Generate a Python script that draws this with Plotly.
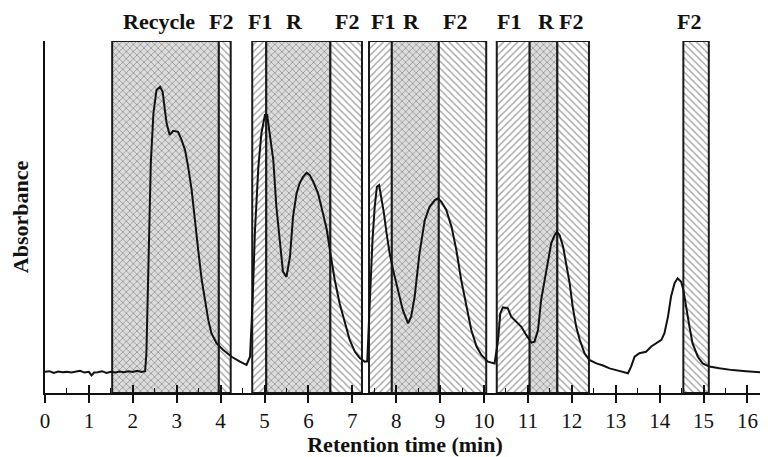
import plotly.graph_objects as go

# ---- chromatogram (retention time in min, absorbance in arbitrary units) ----
time = [0.00, 0.10, 0.20, 0.30, 0.40, 0.50, 0.60, 0.70, 0.80, 0.90, 1.00, 1.06, 1.12, 1.20,
        1.30, 1.40, 1.50, 1.60, 1.70, 1.80, 1.90, 2.00, 2.10, 2.20, 2.28,
        2.31, 2.35, 2.41, 2.47, 2.54, 2.62, 2.68, 2.73, 2.77, 2.84, 2.92, 3.03, 3.11, 3.19,
        3.26, 3.34, 3.41, 3.49, 3.57, 3.64, 3.72, 3.79, 3.91, 4.06, 4.25, 4.44, 4.59, 4.67,
        4.73, 4.78, 4.86, 4.93, 5.01, 5.06, 5.12, 5.20, 5.27, 5.35, 5.42, 5.50, 5.58, 5.65,
        5.73, 5.80, 5.88, 5.96, 6.03, 6.11, 6.22, 6.33, 6.42, 6.50, 6.60, 6.71, 6.83, 6.94,
        7.06, 7.17, 7.28, 7.34, 7.40, 7.46, 7.51, 7.56, 7.61, 7.66, 7.72, 7.78, 7.85, 7.93,
        8.04, 8.15, 8.27, 8.34, 8.42, 8.53, 8.65, 8.76, 8.88, 8.95, 9.03, 9.14, 9.26, 9.37,
        9.48, 9.60, 9.71, 9.83, 9.94, 10.09, 10.24, 10.32, 10.37, 10.43, 10.54, 10.62, 10.74,
        10.85, 10.96, 11.08, 11.15, 11.23, 11.30, 11.38, 11.45, 11.53, 11.61, 11.66, 11.72,
        11.80, 11.87, 11.95, 12.02, 12.10, 12.18, 12.29, 12.40, 12.56, 12.71, 12.86, 13.01,
        13.16, 13.28, 13.35, 13.43, 13.54, 13.69, 13.81, 13.92, 14.04, 14.11, 14.19, 14.26,
        14.34, 14.41, 14.49, 14.54, 14.60, 14.68, 14.75, 14.87, 14.98, 15.13, 15.36, 15.66,
        15.97, 16.31]
absorbance = [0.060, 0.062, 0.057, 0.061, 0.059, 0.060, 0.058, 0.061, 0.063, 0.058, 0.060, 0.050, 0.058, 0.059,
              0.062, 0.057, 0.060, 0.058, 0.061, 0.059, 0.062, 0.060, 0.063, 0.060, 0.062,
              0.113, 0.321, 0.653, 0.795, 0.861, 0.870, 0.856, 0.804, 0.766, 0.733, 0.745, 0.742, 0.719, 0.690,
              0.643, 0.577, 0.491, 0.406, 0.321, 0.264, 0.207, 0.170, 0.141, 0.122, 0.103, 0.089, 0.080, 0.103,
              0.264, 0.454, 0.643, 0.738, 0.790, 0.790, 0.738, 0.662, 0.529, 0.425, 0.345, 0.330, 0.387, 0.501,
              0.567, 0.596, 0.614, 0.626, 0.619, 0.600, 0.567, 0.511, 0.463, 0.397, 0.321, 0.255, 0.198, 0.151,
              0.117, 0.099, 0.089, 0.090, 0.264, 0.435, 0.529, 0.586, 0.591, 0.558, 0.511, 0.454, 0.397, 0.349,
              0.293, 0.236, 0.198, 0.217, 0.274, 0.397, 0.491, 0.529, 0.548, 0.553, 0.543, 0.520, 0.472, 0.406,
              0.321, 0.245, 0.179, 0.132, 0.108, 0.089, 0.084, 0.151, 0.226, 0.243, 0.241, 0.217, 0.203,
              0.188, 0.165, 0.143, 0.146, 0.179, 0.264, 0.321, 0.378, 0.425, 0.449, 0.458, 0.449,
              0.416, 0.368, 0.312, 0.245, 0.188, 0.151, 0.113, 0.094, 0.084, 0.078, 0.070, 0.065,
              0.061, 0.056, 0.075, 0.103, 0.113, 0.117, 0.132, 0.141, 0.151, 0.170, 0.217, 0.274,
              0.312, 0.326, 0.316, 0.293, 0.245, 0.188, 0.141, 0.103, 0.084, 0.075, 0.070, 0.065,
              0.062, 0.059]

# ---- fraction windows ----
seg_start = [1.53, 3.96, 4.72, 5.04, 6.50, 7.38, 7.90, 8.97, 10.29, 11.04, 11.67, 14.54]
seg_end = [3.96, 4.23, 5.04, 6.50, 7.22, 7.90, 8.97, 10.05, 11.04, 11.67, 12.39, 15.12]
seg_kind = ["R", "F2", "F1", "R", "F2", "F1", "R", "F2", "F1", "R", "F2", "F2"]

# ---- labels above the windows ----
label_text = ["Recycle", "F2", "F1", "R", "F2", "F1", "R", "F2", "F1", "R", "F2", "F2"]
label_x = [2.59, 4.02, 4.89, 5.69, 6.87, 7.69, 8.34, 9.33, 10.58, 11.42, 11.99, 14.68]

x_ticks = list(range(0, 17))

style = {
    "R": dict(bg="#dcdcdc", fg="#f2f2f2", shape="x"),
    "F1": dict(bg="#ffffff", fg="#d6d6d6", shape="/"),
    "F2": dict(bg="#ffffff", fg="#d6d6d6", shape="\\"),
}

centers = [(a + b) / 2 for a, b in zip(seg_start, seg_end)]
widths = [b - a for a, b in zip(seg_start, seg_end)]

FONT = "Liberation Serif"

fig = go.Figure()
fig.add_trace(go.Bar(
    x=centers, y=[1.0] * len(centers), width=widths, base=0,
    marker=dict(
        color=[style[k]["bg"] for k in seg_kind],
        line=dict(color="#1a1a1a", width=2),
        pattern=dict(
            shape=[style[k]["shape"] for k in seg_kind],
            fgcolor=[style[k]["fg"] for k in seg_kind],
            bgcolor=[style[k]["bg"] for k in seg_kind],
            fillmode="overlay", size=5, solidity=0.28,
        ),
    ),
    hoverinfo="skip", showlegend=False,
))
fig.add_trace(go.Scatter(
    x=time, y=absorbance, mode="lines", xaxis="x2",
    line=dict(color="#111111", width=2), showlegend=False,
))

for t, xv in zip(label_text, label_x):
    fig.add_annotation(x=xv, y=1.055, xref="x", yref="paper", text="<b>%s</b>" % t,
                       showarrow=False, font=dict(family=FONT, size=22, color="#111111"),
                       xanchor="center", yanchor="middle")

xr = [0, 16.4]
# page body has an 8px margin, so the figure is 760x449 placed at (8, 8)
fig.update_layout(
    width=760, height=449,
    margin=dict(l=37, r=3, t=33, b=64),
    paper_bgcolor="white", plot_bgcolor="white",
    barmode="overlay",
    font=dict(family=FONT, color="#111111", size=21),
    xaxis=dict(
        range=xr, tickvals=x_ticks, ticks="outside", ticklen=8, tickwidth=1.5,
        tickcolor="#111111", showline=True, linecolor="#111111", linewidth=1.5,
        showgrid=False, zeroline=False, automargin=False,
        tickfont=dict(family=FONT, size=21, color="#111111"),
        title=dict(text="<b>Retention time (min)</b>", font=dict(family=FONT, size=22), standoff=0),
    ),
    xaxis2=dict(
        range=xr, overlaying="x", anchor="y", side="bottom",
        tickvals=x_ticks, ticks="inside", ticklen=8, tickwidth=1.5, tickcolor="#111111",
        showticklabels=False, showgrid=False, zeroline=False, showline=False, automargin=False,
        minor=dict(dtick=0.5, tick0=0, ticks="inside", ticklen=5, tickwidth=1.2, tickcolor="#111111"),
    ),
    yaxis=dict(
        range=[0, 1], showline=True, linecolor="#111111", linewidth=1.5,
        showticklabels=False, ticks="", showgrid=False, zeroline=False, automargin=False,
        title=dict(text="<b>Absorbance</b>", font=dict(family=FONT, size=22), standoff=13),
    ),
)

fig.write_html("out.html")
